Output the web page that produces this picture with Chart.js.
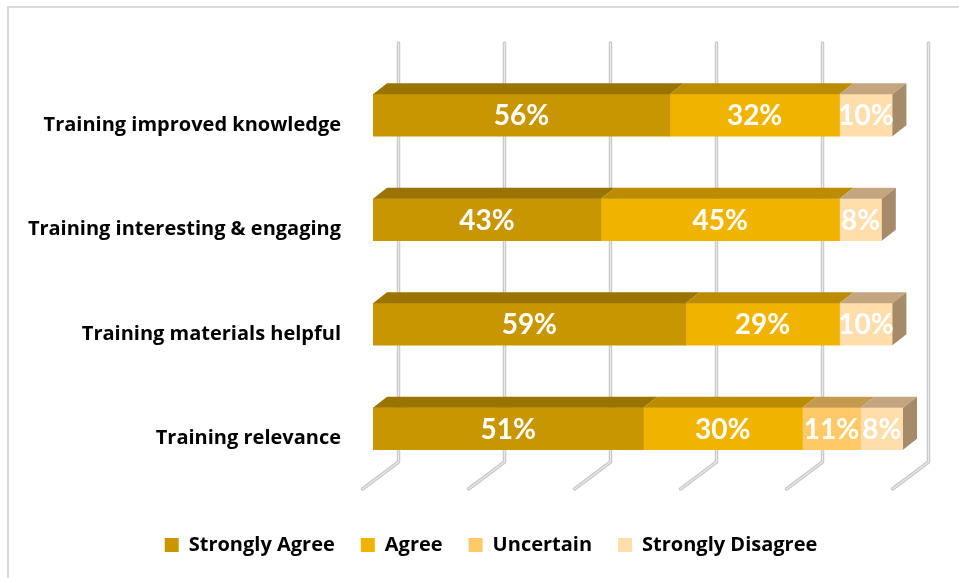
<!DOCTYPE html>
<html><head><meta charset="utf-8">
<script src="https://cdn.jsdelivr.net/npm/chart.js@4.4.0/dist/chart.umd.min.js"></script>
<style>html,body{margin:0;padding:0;background:#fff;overflow:hidden}#wrap{width:959px;height:578px;position:relative}</style>
</head><body><div id="wrap"><canvas id="c" width="959" height="578"></canvas></div>
<script>
const categories = ['Training improved knowledge','Training interesting & engaging','Training materials helpful','Training relevance'];
const seriesNames = ['Strongly Agree','Agree','Uncertain','Strongly Disagree'];
const stronglyAgree = [56,43,59,51];
const agree = [32,45,29,30];
const uncertain = [0,0,0,11];
const stronglyDisagree = [10,8,10,8];
const gridTicks = [0,20,40,60,80,100];

const frontColors = ['#C89600','#EFB300','#FFC967','#FFDEAB'];
const topColors = ['#9A7300','#BB8B00','#C49A50','#C3A57F'];
const sideColors = ['#7E5F00','#9A7300','#A8844A','#A68B6B'];

const DX = 14, DY = -11;

const bgPlugin = {
  id:'bg',
  beforeDraw(chart){
    const ctx = chart.ctx;
    ctx.save();
    ctx.fillStyle = '#fff';
    ctx.fillRect(0,0,chart.width,chart.height);
    ctx.strokeStyle = '#D9D9D9';
    ctx.lineWidth = 2;
    ctx.beginPath();
    ctx.moveTo(8, chart.height+2);
    ctx.lineTo(8, 7);
    ctx.lineTo(chart.width+2, 7);
    ctx.stroke();
    ctx.restore();
  },
  afterLayout(chart){
    if (chart.legend){ chart.legend.left = 79; }
  }
};

const gridPlugin = {
  id:'grid3d',
  beforeDatasetsDraw(chart){
    const ctx = chart.ctx, xs = chart.scales.x;
    ctx.save();
    ctx.lineCap = 'round';
    ctx.lineJoin = 'round';
    gridTicks.forEach(v => {
      const x = xs.getPixelForValue(v) + 25.5;
      const path = () => { ctx.beginPath(); ctx.moveTo(x,43); ctx.lineTo(x,462); ctx.lineTo(x-36,489); };
      path(); ctx.strokeStyle = '#C8C8C8'; ctx.lineWidth = 3.5; ctx.stroke();
      path(); ctx.strokeStyle = '#E8E8E8'; ctx.lineWidth = 1.2; ctx.stroke();
    });
    ctx.restore();
  }
};

const bar3dPlugin = {
  id:'bar3d',
  afterDatasetsDraw(chart){
    const ctx = chart.ctx;
    const n = chart.data.datasets.length;
    ctx.save();
    for (let i=0;i<n;i++){
      const meta = chart.getDatasetMeta(i);
      const data = chart.data.datasets[i].data;
      meta.data.forEach((el,j) => {
        if (!data[j]) return;
        const p = el.getProps(['x','y','base','height'], true);
        const l = Math.min(p.x,p.base), r = Math.max(p.x,p.base);
        const t = p.y - p.height/2, b = p.y + p.height/2;
        ctx.fillStyle = topColors[i];
        ctx.beginPath();
        ctx.moveTo(l,t); ctx.lineTo(r,t); ctx.lineTo(r+DX,t+DY); ctx.lineTo(l+DX,t+DY); ctx.closePath();
        ctx.fill();
        let last = true;
        for (let k=i+1;k<n;k++) if (chart.data.datasets[k].data[j]) last = false;
        if (last){
          ctx.fillStyle = sideColors[i];
          ctx.beginPath();
          ctx.moveTo(r,t); ctx.lineTo(r+DX,t+DY); ctx.lineTo(r+DX,b+DY); ctx.lineTo(r,b); ctx.closePath();
          ctx.fill();
        }
      });
    }
    ctx.fillStyle = '#FFFFFF';
    ctx.font = 'bold 28px Lato';
    ctx.textAlign = 'center';
    ctx.textBaseline = 'middle';
    for (let i=0;i<n;i++){
      const meta = chart.getDatasetMeta(i);
      const data = chart.data.datasets[i].data;
      meta.data.forEach((el,j) => {
        if (!data[j]) return;
        const p = el.getProps(['x','y','base'], true);
        ctx.fillText(data[j] + '%', (p.x+p.base)/2, p.y + 1);
      });
    }
    ctx.restore();
  }
};

const seriesData = [stronglyAgree, agree, uncertain, stronglyDisagree];

new Chart(document.getElementById('c'), {
  type:'bar',
  data:{
    labels: categories,
    datasets: seriesNames.map((name,i) => ({
      label: name,
      data: seriesData[i],
      backgroundColor: frontColors[i],
      borderWidth: 0,
      barThickness: 42
    }))
  },
  options:{
    indexAxis:'y',
    responsive:false,
    animation:false,
    layout:{padding:{left:0,right:56,top:63,bottom:13}},
    scales:{
      x:{stacked:true,min:0,max:100,grid:{display:false},border:{display:false},ticks:{display:false},afterFit:s=>{s.height=28;}},
      y:{stacked:true,grid:{display:false,drawTicks:false},border:{display:false},
         ticks:{color:'#000',font:{family:'Open Sans',size:20,weight:'bold'},padding:32,labelOffset:10},
         afterFit:s=>{s.width=373;}}
    },
    plugins:{
      legend:{position:'bottom',labels:{boxWidth:14,boxHeight:14,padding:26,color:'#000',
        generateLabels(chart){
          return chart.data.datasets.map((ds,i)=>({text:ds.label,fillStyle:frontColors[i],strokeStyle:frontColors[i],lineWidth:0,hidden:false,datasetIndex:i,fontColor:'#000'}));
        },
        font:{family:'Open Sans',size:20,weight:'bold'}}},
      tooltip:{enabled:false}
    }
  },
  plugins:[bgPlugin,gridPlugin,bar3dPlugin]
});
</script></body></html>
